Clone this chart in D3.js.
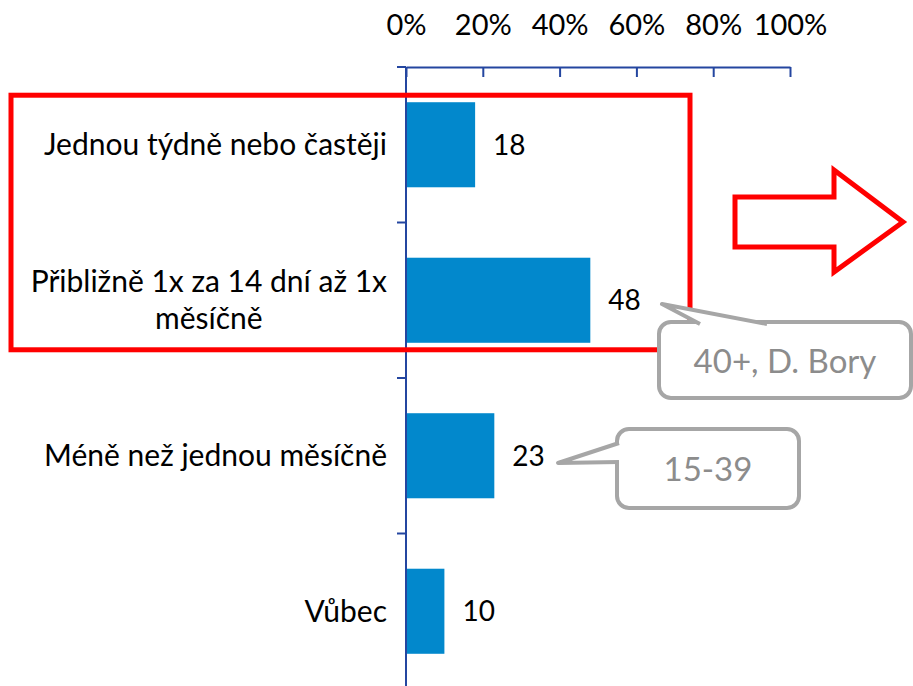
<!DOCTYPE html>
<html>
<head>
<meta charset="utf-8">
<script src="https://cdn.jsdelivr.net/npm/d3@7"></script>
<style>
  body { margin: 0; background: #fff; }
  svg text { font-family: Lato, "Noto Sans", sans-serif; }
</style>
</head>
<body>
<div id="chart"></div>
<script>
(function () {

  // data
  var categories = [
    "Jednou týdně nebo častěji",
    "Přibližně 1x za 14 dní až 1x|měsíčně",
    "Méně než jednou měsíčně",
    "Vůbec"
  ]
  var values = [18, 48, 23, 10]
  var tickValues = [0, 0.2, 0.4, 0.6, 0.8, 1]
  var callouts = [
    { text: "40+, D. Bory", cat: 1 },
    { text: "15-39", cat: 2 }
  ]

  var width = 913,
      height = 686

  var svg = d3.select("#chart").append("svg")
      .attr("width", width)
      .attr("height", height)

  var x = d3.scaleLinear()
    .domain([0, 1])
    .range([406, 790])

  var y = d3.scaleBand()
    .domain(d3.range(categories.length))
    .range([67, 689])
    .paddingInner(0.453)
    .paddingOuter(0.2265)

  var axisColor = "#2446a0"

  // top axis
  var xAxis = d3.axisTop(x)
    .tickValues(tickValues)
    .tickFormat(d3.format(".0%"))
    .tickSizeInner(-10)
    .tickSizeOuter(0)
    .tickPadding(32)

  var gx = svg.append("g")
    .attr("transform", "translate(0," + y.range()[0] + ")")
    .call(xAxis)
  gx.select(".domain").attr("stroke", axisColor).attr("stroke-width", 2)
  gx.selectAll(".tick line").attr("stroke", axisColor).attr("stroke-width", 2)
  gx.selectAll(".tick text")
    .attr("fill", "#000")
    .style("font-size", "29px")
    .style("font-family", "Lato, sans-serif")

  // left axis line + ticks between categories
  svg.append("line")
    .attr("x1", x(0)).attr("x2", x(0))
    .attr("y1", y.range()[0]).attr("y2", y.range()[1])
    .attr("stroke", axisColor).attr("stroke-width", 2)

  var bounds = d3.range(categories.length + 1).map(function (i) {
    return y.range()[0] + i * y.step()
  })
  svg.selectAll(".ytick")
    .data(bounds)
    .enter().append("line")
    .attr("x1", x(0) - 9).attr("x2", x(0))
    .attr("y1", function (d) { return d })
    .attr("y2", function (d) { return d })
    .attr("stroke", axisColor).attr("stroke-width", 2)

  // bars
  svg.selectAll(".bar")
    .data(values)
    .enter().append("rect")
    .attr("x", x(0) + 1)
    .attr("y", function (d, i) { return y(i) })
    .attr("width", function (d) { return x(d / 100) - x(0) - 1 })
    .attr("height", y.bandwidth())
    .attr("fill", "#0288cc")

  // value labels
  svg.selectAll(".val")
    .data(values)
    .enter().append("text")
    .attr("x", function (d) { return x(d / 100) + 18 })
    .attr("y", function (d, i) { return y(i) + y.bandwidth() / 2 })
    .attr("dy", "0.35em")
    .style("font-size", "28px")
    .text(function (d) { return d })

  // category labels (multi-line centred within a right aligned block)
  var labelRight = 387
  categories.forEach(function (c, i) {
    var lines = c.split("|")
    var cy = y(i) + y.bandwidth() / 2
    var t = svg.append("text")
      .style("font-size", "30px")
      .attr("text-anchor", "middle")
    lines.forEach(function (l, j) {
      t.append("tspan")
        .attr("x", 0)
        .attr("y", cy + (j - (lines.length - 1) / 2) * 37)
        .attr("dy", "0.35em")
        .text(l)
    })
    var w = t.node().getBBox().width
    t.selectAll("tspan").attr("x", labelRight - w / 2)
  })

  // red highlight box
  svg.append("rect")
    .attr("x", 11)
    .attr("y", y(0) - 7)
    .attr("width", 679)
    .attr("height", y(1) + y.bandwidth() + 7 - (y(0) - 7))
    .attr("fill", "none")
    .attr("stroke", "#ff0000")
    .attr("stroke-width", 5)

  // red arrow
  var arrow = [[735, 197], [834, 197], [834, 170], [903, 222], [834, 272], [834, 247], [735, 247]]
  svg.append("path")
    .attr("d", d3.line()(arrow) + "Z")
    .attr("fill", "#fff")
    .attr("stroke", "#ff0000")
    .attr("stroke-width", 5)
    .attr("stroke-linejoin", "miter")

  // callouts
  var grey = "#a6a6a6"
  function callout(box, tail, tip, label, ty) {
    svg.append("rect")
      .attr("x", box[0]).attr("y", box[1])
      .attr("width", box[2]).attr("height", box[3])
      .attr("rx", 12)
      .attr("fill", "#fff")
      .attr("stroke", grey)
      .attr("stroke-width", 4)
    svg.append("path")
      .attr("d", "M" + tail[0] + "L" + tip + "L" + tail[1])
      .attr("fill", "#fff")
      .attr("stroke", grey)
      .attr("stroke-width", 4)
      .attr("stroke-linejoin", "round")
    svg.append("text")
      .attr("x", box[0] + box[2] / 2)
      .attr("y", ty)
      .attr("text-anchor", "middle")
      .attr("fill", "#8c8c8c")
      .style("font-size", "33px")
      .text(label)
  }

  callout([659, 322, 252, 76], [[700, 324], [767, 324]], [662, 304], callouts[0].text, 373)
  callout([617, 429, 182, 79], [[619, 443], [619, 462]], [558, 463], callouts[1].text, 481)

})()
</script>
</body>
</html>
